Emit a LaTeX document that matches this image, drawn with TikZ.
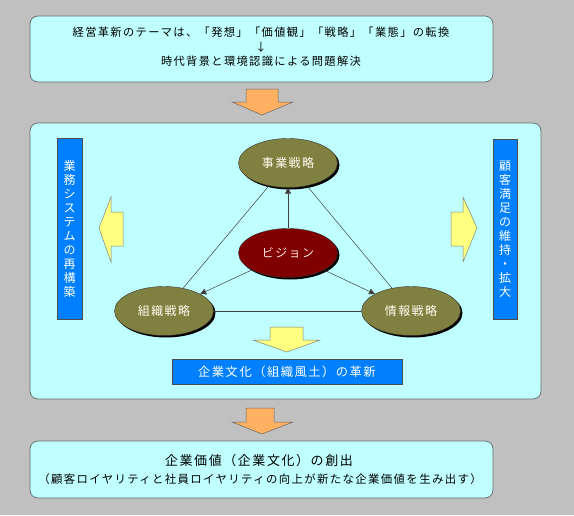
\documentclass[tikz,border=0pt]{standalone}
\usepackage{fontspec}
\setmainfont[LetterSpace=12]{Noto Sans CJK JP}
\usetikzlibrary{shapes.geometric,shadows,arrows.meta}

\definecolor{bgsilver}{RGB}{192,192,192}
\definecolor{boxcyan}{RGB}{192,255,255}
\definecolor{barblue}{RGB}{0,128,255}
\definecolor{olivedisc}{RGB}{128,128,64}
\definecolor{visionred}{RGB}{128,0,0}
\definecolor{arroworange}{RGB}{255,176,96}
\definecolor{arrowyellow}{RGB}{255,255,128}

\tikzset{
    panel/.style={draw=black!60, fill=boxcyan, rounded corners=8pt, line width=0.7pt},
    bar/.style={draw=black!70, fill=barblue, text=white, inner sep=0pt},
    disc/.style={ellipse, draw=black!80, fill=olivedisc, text=white!95!yellow,
        minimum width=99pt, minimum height=49pt, inner sep=0pt,
        font=\fontsize{12}{14}\selectfont,
        drop shadow={shadow xshift=2pt, shadow yshift=-2pt, opacity=1, fill=black}},
    bigarrow/.style={draw=black!60, fill=arroworange, line width=0.5pt},
    sidearrow/.style={draw=black!50, fill=arrowyellow, line width=0.5pt},
    link/.style={draw=black!75, line width=0.5pt},
    push/.style={link, -{Triangle[length=6pt,width=6pt]}},
}

\begin{document}
\begin{tikzpicture}[x=1pt, y=-1pt, font=\fontsize{11.25}{14}\selectfont]
    \fill[bgsilver] (0,0) rectangle (574,515);
    \useasboundingbox (0,0) rectangle (574,515);

    % top panel
    \draw[panel] (30,16) rectangle (493,82);
    \node (theme) at (261,32) {経営革新のテーマは、「発想」「価値観」「戦略」「業態」の転換};
    \node (down) at (261,47) {↓};
    \node (solve) at (261,61) {時代背景と環境認識による問題解決};

    \draw[bigarrow] (246,89) -- (278,89) -- (278,102) -- (293,102) -- (262,115)
        -- (232,102) -- (246,102) -- cycle;

    % middle panel
    \draw[panel] (30,123) rectangle (541,399);

    \node[bar, minimum width=25pt, minimum height=181pt] (work) at (69.5,228.5) {};
    \node[text=white, align=center, font=\fontsize{12}{14}\selectfont] (worktext) at (work.center)
        {業\\務\\シ\\ス\\テ\\ム\\の\\再\\構\\築};
    \node[bar, minimum width=24pt, minimum height=180pt] (customer) at (505,229) {};
    \node[text=white, align=center, font=\fontsize{12}{14}\selectfont] (customertext) at (customer.center)
        {顧\\客\\満\\足\\の\\維\\持\\・\\拡\\大};

    \draw[sidearrow] (123,212) -- (111,212) -- (111,197) -- (99,228) -- (111,262)
        -- (111,246) -- (123,246) -- cycle;
    \draw[sidearrow] (451,212) -- (463,212) -- (463,197) -- (477,228) -- (463,262)
        -- (463,246) -- (451,246) -- cycle;

    \node[disc] (business) at (288,163) {事業戦略};
    \node[disc, fill=visionred, text=white!90!red] (vision) at (288,253) {ビジョン};
    \node[disc] (org) at (164,311) {組織戦略};
    \node[disc] (info) at (411,311) {情報戦略};

    \draw[link] (business) -- (org);
    \draw[link] (business) -- (info);
    \draw[link] (org) -- (info);
    \draw[push] (vision) -- (business);
    \draw[push] (vision) -- (org);
    \draw[push] (vision) -- (info);

    \draw[sidearrow] (270,327) -- (303,327) -- (303,340) -- (320,340) -- (287,352)
        -- (253,340) -- (270,340) -- cycle;

    \node[bar, minimum width=230pt, minimum height=25pt, font=\fontsize{12.3}{14}\selectfont]
        (culture) at (287,371.5) {企業文化（組織風土）の革新};

    \draw[bigarrow] (246,408) -- (274,408) -- (274,422) -- (293,422) -- (262,434)
        -- (232,422) -- (246,422) -- cycle;

    % bottom panel
    \draw[panel] (30,441) rectangle (493,498);
    \node[font=\fontsize{13}{16}\selectfont] (value) at (259,461) {企業価値（企業文化）の創出};
    \node[font=\fontsize{11.4}{14}\selectfont] (loyalty) at (260,479) {（顧客ロイヤリティと社員ロイヤリティの向上が新たな企業価値を生み出す）};
\end{tikzpicture}
\end{document}
